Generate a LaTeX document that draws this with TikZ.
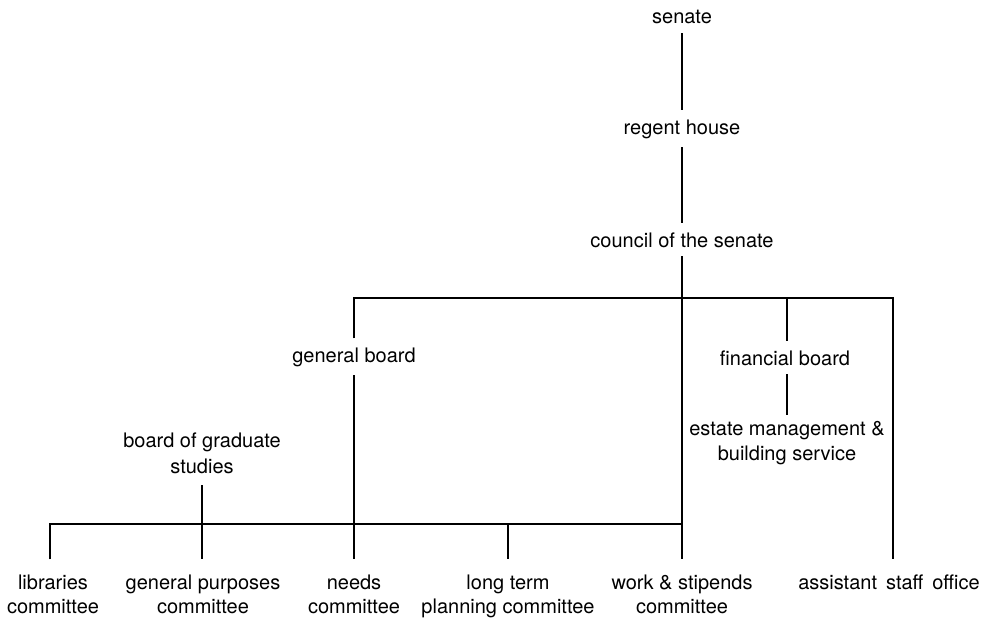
\documentclass[tikz,border=0pt]{standalone}
\usepackage{fontspec}
\setmainfont{TeX Gyre Heros}
\begin{document}
\begin{tikzpicture}[x=1pt,y=-1pt,
  txt/.style={font=\fontsize{20}{25}\selectfont, align=center, inner sep=0pt, outer ysep=9pt, anchor=base},
  low/.style={txt, font=\fontsize{20}{24}\selectfont, outer ysep=15pt},
  ln/.style={line width=1.8pt}]
\useasboundingbox (0,0) rectangle (994,618);
% nodes (anchor = baseline of last line)
\node[txt] (senate) at (682,24) {senate};
\node[txt] (regent) at (682,134) {regent house};
\node[txt] (council) at (682,247) {council of the senate};
\node[txt] (gb) at (354,362) {general board};
\node[txt] (fb) at (785,365) {financial board};
\node[txt, outer ysep=6pt] (estate) at (787,460) {estate management \&\\building service};
\node[txt, font=\fontsize{20}{26}\selectfont, outer ysep=12pt] (bgs) at (202,473) {board of graduate\\studies};
\node[low] (lib) at (53,613) {libraries\\committee};
\node[low] (gp) at (203,613) {general purposes\\committee};
\node[low] (needs) at (354,613) {needs\\committee};
\node[low] (lt) at (508,613) {long term\\planning committee};
\node[low] (work) at (682,613) {work \& stipends\\committee};
\node[low] (aso) at (889,589) {assistant\hskip 9pt staff\hskip 9pt office};
% bar levels
\coordinate (upbar) at (682,298);
\coordinate (lowbar) at (682,524);
\coordinate (asox) at (893,0);
\coordinate (libx) at (50,0);
% connectors
\draw[ln] (senate) -- (regent);
\draw[ln] (regent) -- (council);
\draw[ln] (council) -- (council |- work.north);
\draw[ln] (gb.north) -- (gb.north |- upbar) -- (asox |- upbar) -- (asox |- aso.north);
\draw[ln] (upbar -| 787,0) -- (787,0 |- fb.north);
\draw[ln] (fb.south -| 787,0) -- (787,0 |- estate.north);
\draw[ln] (gb.south) -- (needs.north);
\draw[ln] (libx |- lib.north) -- (libx |- lowbar) -- (lowbar);
\draw[ln] (bgs.south) -- (bgs.south |- gp.north);
\draw[ln] (lowbar -| lt.north) -- (lt.north);
\end{tikzpicture}
\end{document}
